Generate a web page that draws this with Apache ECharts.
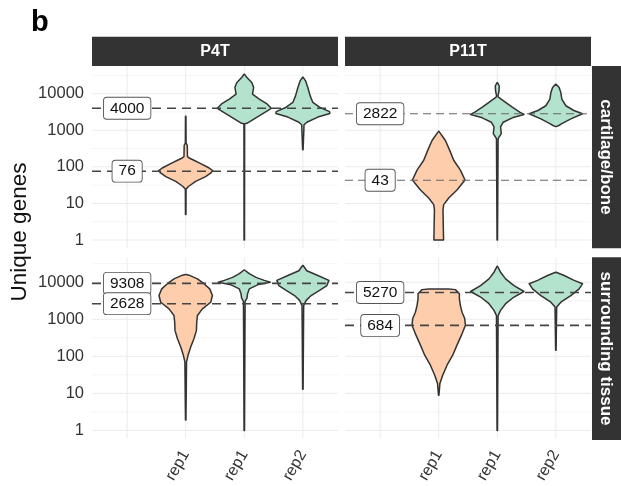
<!DOCTYPE html>
<html><head><meta charset="utf-8">
<script src="https://cdn.jsdelivr.net/npm/echarts@6/dist/echarts.min.js"></script>
<style>html,body{margin:0;padding:0;background:#fff}#c{width:621px;height:486px}</style>
</head><body><div id="c"></div>
<script>
// ---------- data ----------
const xCategories = ['', 'rep1', 'rep1', 'rep2'];
const sampleNames = ['P4T', 'P11T'];
const tissueNames = ['cartilage/bone', 'surrounding tissue'];
const yTickValues = [1, 10, 100, 1000, 10000];
const yMinorValues = [3.16, 31.6, 316, 3162, 31623];

// median unique genes (dashed lines + labels)
const medP4TCart = [4000, 76];
const medP11TCart = [2822, 43];
const medP4TSurr = [9308, 2628];
const medP11TSurr = [5270, 684];

// violin outlines: [unique genes, half width (category units)]
const p4tCartA = [[5,0.004],[24.5,0.006],[29,0.046],[40,0.17],[54,0.34],[68,0.43],[79,0.461],[93,0.40],[123,0.256],[151,0.14],[174,0.06],[191,0.03],[389,0.026],[447,0.006],[2400,0.004]];
const p4tCartB = [[1,0.004],[1514,0.006],[1549,0.046],[2042,0.17],[2818,0.31],[3981,0.461],[5248,0.388],[7079,0.256],[9772,0.14],[14791,0.16],[19953,0.13],[27542,0.046],[33884,0.004]];
const p4tCartC = [[295,0.004],[1413,0.02],[1660,0.068],[2291,0.256],[2884,0.461],[3236,0.455],[4266,0.285],[5754,0.171],[8710,0.125],[14791,0.085],[22387,0.046],[28184,0.004]];
const p11tCartA = [[1,0.082],[1.17,0.082],[6.8,0.073],[9.3,0.085],[14.1,0.171],[23.4,0.312],[43.7,0.449],[81.3,0.37],[151,0.256],[282,0.188],[525,0.114],[933,0.004]];
const p11tCartB = [[1,0.004],[589,0.014],[813,0.068],[1230,0.056],[1660,0.102],[2188,0.256],[2692,0.456],[3090,0.39],[4266,0.256],[5754,0.142],[8000,0.02],[8710,0.012],[12023,0.03],[16218,0.034],[19953,0.004]];
const p11tCartC = [[1259,0.004],[1350,0.05],[1514,0.102],[2042,0.256],[2818,0.456],[3467,0.307],[4677,0.171],[7079,0.102],[10715,0.085],[14791,0.056],[18197,0.004]];
const p4tSurrA = [[1.9,0.004],[70.8,0.014],[107,0.04],[178,0.085],[302,0.142],[501,0.183],[832,0.188],[1259,0.2],[1905,0.285],[2884,0.427],[4365,0.456],[6607,0.41],[9120,0.312],[12303,0.2],[15500,0.056],[16218,0.004]];
const p4tSurrB = [[1,0.004],[3020,0.014],[3715,0.046],[4898,0.056],[6607,0.085],[8511,0.227],[10000,0.444],[11220,0.341],[13490,0.2],[16982,0.085],[21380,0.004]];
const p4tSurrC = [[12.9,0.004],[2344,0.014],[3236,0.056],[4365,0.142],[6026,0.285],[8128,0.41],[11220,0.444],[15136,0.256],[20417,0.068],[28184,0.004]];
const p11tSurrA = [[8.9,0.004],[18.6,0.02],[30.9,0.068],[57.5,0.142],[107,0.239],[200,0.312],[372,0.388],[692,0.456],[1047,0.444],[1549,0.398],[2344,0.37],[3548,0.353],[4898,0.353],[6310,0.285],[6607,0.171]];
const p11tSurrB = [[1,0.004],[1259,0.014],[1738,0.056],[2630,0.142],[3981,0.285],[5623,0.456],[8128,0.285],[12303,0.142],[18621,0.056],[26915,0.004]];
const p11tSurrC = [[145,0.004],[2138,0.014],[2884,0.085],[4365,0.256],[6607,0.398],[9120,0.456],[11220,0.312],[15136,0.142],[18621,0.004]];

// ---------- styling ----------
const ORANGE = '#FDCDAC', GREEN = '#B3E2CD';
const FONT = '"Liberation Sans", Arial, Helvetica, sans-serif';

const panels = [
  {medians: medP4TCart, dash: 'dark', violins: [{x:2, fill:ORANGE, prof:p4tCartA},{x:3, fill:GREEN, prof:p4tCartB},{x:4, fill:GREEN, prof:p4tCartC}]},
  {medians: medP11TCart, dash: 'light', violins: [{x:2, fill:ORANGE, prof:p11tCartA},{x:3, fill:GREEN, prof:p11tCartB},{x:4, fill:GREEN, prof:p11tCartC}]},
  {medians: medP4TSurr, dash: 'dark', violins: [{x:2, fill:ORANGE, prof:p4tSurrA},{x:3, fill:GREEN, prof:p4tSurrB},{x:4, fill:GREEN, prof:p4tSurrC}]},
  {medians: medP11TSurr, dash: 'dark', violins: [{x:2, fill:ORANGE, prof:p11tSurrA},{x:3, fill:GREEN, prof:p11tSurrB},{x:4, fill:GREEN, prof:p11tSurrC}]}
];

const grids = [
  {left:92, top:66, width:246, height:182.3},
  {left:345, top:66, width:246, height:182.3},
  {left:92, top:257.3, width:246, height:182.7},
  {left:345, top:257.3, width:246, height:182.7}
];
const yRanges = [[0.5935, 57075],[0.5935, 57075],[0.599, 47043],[0.599, 47043]];

function yFmt(v){ const l = Math.log10(v); const r = Math.round(l); return Math.abs(l - r) < 1e-6 ? String(Math.round(Math.pow(10, r))) : ''; }
function xFmt(v){ const r = Math.round(v); return (Math.abs(v - r) < 1e-6 && r >= 1 && r <= 4) ? xCategories[r-1] : ''; }

const xAxes = grids.map((g,i) => ({
  type:'value', gridIndex:i, min:0.4, max:4.6, interval:0.2,
  axisLine:{show:false}, axisTick:{show:false}, splitLine:{show:false},
  axisLabel:{show: i>=2, formatter:xFmt, rotate:60, margin:13, fontSize:16, color:'#333', fontFamily:FONT}
}));
const yAxes = grids.map((g,i) => ({
  type:'log', logBase:10, gridIndex:i, min:yRanges[i][0], max:yRanges[i][1],
  axisLine:{show:false}, axisTick:{show:false}, splitLine:{show:false}, minorSplitLine:{show:false},
  axisLabel:{show: i%2===0, formatter:yFmt, fontSize:16.5, color:'#333', margin:8, fontFamily:FONT, showMinLabel:true, showMaxLabel:true}
}));

const series = [];
panels.forEach((p, i) => {
  // gridlines
  const lines = [];
  yTickValues.forEach(v => lines.push({k:'major', v}));
  yMinorValues.forEach(v => lines.push({k:'minor', v}));
  [1,2,3,4].forEach(v => lines.push({k:'v', v}));
  series.push({
    type:'custom', xAxisIndex:i, yAxisIndex:i, z:1, silent:true,
    data: lines.map(L => L.k==='v' ? [L.v, 1] : [1, L.v]),
    renderItem: (params, api) => {
      const L = lines[params.dataIndex]; const cs = params.coordSys;
      if (L.k === 'v') {
        const pt = api.coord([L.v, 1]);
        return {type:'line', shape:{x1:pt[0], y1:cs.y, x2:pt[0], y2:cs.y+cs.height}, style:{stroke:'#EBEBEB', lineWidth:1}};
      }
      const pt = api.coord([1, L.v]);
      return {type:'line', shape:{x1:cs.x, y1:pt[1], x2:cs.x+cs.width, y2:pt[1]},
        style:{stroke: L.k==='major' ? '#EBEBEB' : '#F2F2F2', lineWidth: L.k==='major' ? 1 : 0.8}};
    }
  });
  // violins
  series.push({
    type:'custom', xAxisIndex:i, yAxisIndex:i, z:2, silent:true,
    data: p.violins.map(v => [v.x, v.prof[0][0]]),
    renderItem: (params, api) => {
      const v = p.violins[params.dataIndex];
      const right = v.prof.map(([g,w]) => api.coord([v.x + w, g]));
      const left = v.prof.slice().reverse().map(([g,w]) => api.coord([v.x - w, g]));
      return {type:'polygon', shape:{points: right.concat(left)}, style:{fill:v.fill, stroke:'#333', lineWidth:1.5, lineJoin:'round'}};
    }
  });
  // median dashed lines
  const dark = p.dash === 'dark';
  series.push({
    type:'custom', xAxisIndex:i, yAxisIndex:i, z:3, silent:true,
    data: p.medians.map(m => [1, m]),
    renderItem: (params, api) => {
      const m = p.medians[params.dataIndex]; const cs = params.coordSys;
      const pt = api.coord([1, m]);
      return {type:'line', shape:{x1:cs.x, y1:pt[1], x2:cs.x+cs.width, y2:pt[1]},
        style:{stroke: dark ? '#444' : '#666', lineWidth: dark ? 1.6 : 1.1, lineDash: dark ? [9,6] : [8,5]}};
    }
  });
  // median labels
  series.push({
    type:'custom', xAxisIndex:i, yAxisIndex:i, z:4, silent:true,
    data: p.medians.map(m => [1, m]),
    renderItem: (params, api) => {
      const m = p.medians[params.dataIndex];
      const pt = api.coord([1, m]);
      return {type:'text', x:pt[0], y:pt[1], style:{text:String(m), align:'center', verticalAlign:'middle',
        font:'15.5px ' + FONT, fill:'#111', backgroundColor:'#fff', borderColor:'#555', borderWidth:0.9,
        borderRadius:3, padding:[3,6,2,6]}};
    }
  });
});

const graphic = [
  {type:'text', left:31, top:8, style:{text:'b', font:'bold 29px ' + FONT, fill:'#000'}},
  {type:'text', x:20, y:232, rotation:Math.PI/2, style:{text:'Unique genes', font:'22.5px ' + FONT, fill:'#111', align:'center', verticalAlign:'middle'}},
  {type:'rect', shape:{x:92, y:36.7, width:246, height:29.3}, style:{fill:'#333333'}},
  {type:'rect', shape:{x:345, y:36.7, width:246, height:29.3}, style:{fill:'#333333'}},
  {type:'text', x:215, y:51.5, style:{text:sampleNames[0], font:'bold 16px ' + FONT, fill:'#fff', align:'center', verticalAlign:'middle'}},
  {type:'text', x:468, y:51.5, style:{text:sampleNames[1], font:'bold 16px ' + FONT, fill:'#fff', align:'center', verticalAlign:'middle'}},
  {type:'rect', shape:{x:592, y:66, width:30, height:182.3}, style:{fill:'#333333'}},
  {type:'rect', shape:{x:592, y:257.3, width:30, height:182.7}, style:{fill:'#333333'}},
  {type:'text', x:606, y:157, rotation:-Math.PI/2, style:{text:tissueNames[0], font:'bold 17px ' + FONT, fill:'#fff', align:'center', verticalAlign:'middle'}},
  {type:'text', x:606, y:348.6, rotation:-Math.PI/2, style:{text:tissueNames[1], font:'bold 17px ' + FONT, fill:'#fff', align:'center', verticalAlign:'middle'}}
];

const chart = echarts.init(document.getElementById('c'), null, {renderer:'canvas', width:621, height:486});
chart.setOption({
  animation:false,
  backgroundColor:'#fff',
  grid: grids,
  xAxis: xAxes,
  yAxis: yAxes,
  series: series,
  graphic: graphic
});
</script>
</body></html>
